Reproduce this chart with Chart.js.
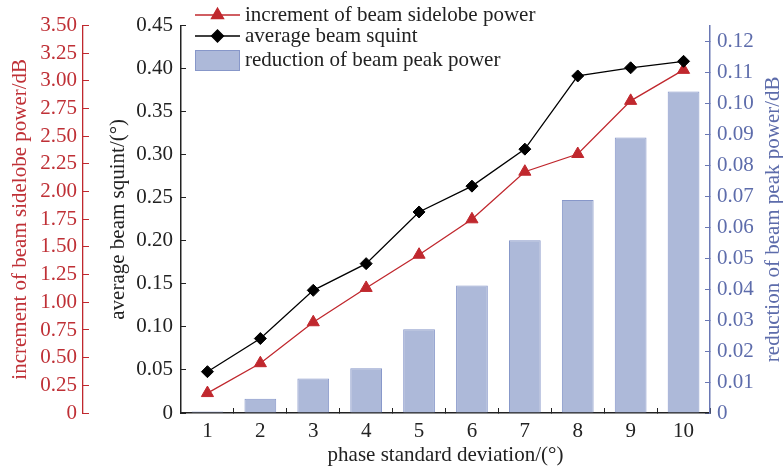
<!DOCTYPE html>
<html><head><meta charset="utf-8">
<script src="https://cdn.jsdelivr.net/npm/chart.js@4"></script>
<style>html,body{margin:0;padding:0;background:#fff}</style>
</head><body>
<canvas id="c" width="783" height="468"></canvas>
<script>
// ---- data ----
const categories = ['1','2','3','4','5','6','7','8','9','10'];
const sidelobeIncrease = [0.18, 0.45, 0.82, 1.13, 1.43, 1.75, 2.18, 2.34, 2.82, 3.10];
const beamSquint = [0.048, 0.0865, 0.1425, 0.1735, 0.2335, 0.2635, 0.3065, 0.3915, 0.401, 0.4085];
const peakReduction = [0.0005, 0.0046, 0.0111, 0.0144, 0.027, 0.0411, 0.0557, 0.0687, 0.0889, 0.1037];
const sidelobeTickLabels = ['0','0.25','0.50','0.75','1.00','1.25','1.50','1.75','2.00','2.25','2.50','2.75','3.00','3.25','3.50'];
const squintTickLabels = ['0','0.05','0.10','0.15','0.20','0.25','0.30','0.35','0.40','0.45'];
const peakTickLabels = ['0','0.01','0.02','0.03','0.04','0.05','0.06','0.07','0.08','0.09','0.10','0.11','0.12'];
const seriesNames = ['increment of beam sidelobe power','average beam squint','reduction of beam peak power'];

// ---- styles ----
const RED = '#c0282e', RED_TXT = '#bf3036';
const BLACK = '#000', TXT = '#222';
const BLUE_AX = '#6a78b4', BLUE_TXT = '#5d6cab';
const BAR_FILL = '#adb9d9', BAR_EDGE = '#8797c9';
const FONT = "'Liberation Serif', 'Times New Roman', serif";
const FS = 21;
const f = (s) => ({family: FONT, size: s, lineHeight: 1.2});

function fixTicks(labels){
  return (scale) => { scale.ticks = labels.map(l => ({value: parseFloat(l)})); };
}

const legendPlugin = {
  id: 'innerLegend',
  afterDatasetsDraw(chart){
    const ctx = chart.ctx;
    const ds = chart.data.datasets;
    const x0 = 195, x1 = 240, tx = 245;
    const rows = [15, 36, 60.5];
    ctx.save();
    ctx.font = FS + "px " + FONT;
    ctx.textBaseline = 'middle';
    ctx.textAlign = 'left';
    ds.forEach((d, i) => {
      const y = rows[i];
      if (d.type === 'bar') {
        ctx.fillStyle = d.backgroundColor;
        ctx.fillRect(x0, y - 10.5, x1 - x0, 21);
        ctx.strokeStyle = d.borderColor; ctx.lineWidth = 1;
        ctx.strokeRect(x0 + 0.5, y - 10, x1 - x0 - 1, 20);
      } else {
        ctx.strokeStyle = d.borderColor; ctx.lineWidth = d.borderWidth;
        ctx.beginPath(); ctx.moveTo(x0, y); ctx.lineTo(x1, y); ctx.stroke();
        ctx.fillStyle = d.pointBackgroundColor; ctx.strokeStyle = d.pointBorderColor;
        Chart.helpers.drawPoint(ctx, {pointStyle: d.pointStyle, radius: d.pointRadius, rotation: 0, borderWidth: 1}, (x0 + x1) / 2, y);
      }
      ctx.fillStyle = TXT;
      ctx.fillText(d.label, tx, y);
    });
    ctx.restore();
  }
};

const rightTitlePlugin = {
  id: 'rightTitle',
  afterDraw(chart){
    const s = chart.scales.yPeak;
    const ctx = chart.ctx;
    ctx.save();
    ctx.translate(s.right - 10, (s.top + s.bottom) / 2);
    ctx.rotate(-Math.PI / 2);
    ctx.font = FS + "px " + FONT;
    ctx.fillStyle = BLUE_TXT;
    ctx.textAlign = 'center';
    ctx.textBaseline = 'middle';
    ctx.fillText('reduction of beam peak power/dB', 0, 0);
    ctx.restore();
  }
};

new Chart(document.getElementById('c'), {
  data: {
    labels: categories,
    datasets: [
      {type: 'line', label: seriesNames[0], data: sidelobeIncrease, yAxisID: 'ySide', order: 2,
       borderColor: RED, borderWidth: 1.3, pointStyle: 'triangle', pointRadius: 7,
       pointBackgroundColor: RED, pointBorderColor: RED, pointBorderWidth: 1, tension: 0},
      {type: 'line', label: seriesNames[1], data: beamSquint, yAxisID: 'ySquint', order: 1,
       borderColor: BLACK, borderWidth: 1.3, pointStyle: 'rectRot', pointRadius: 6,
       pointBackgroundColor: BLACK, pointBorderColor: BLACK, pointBorderWidth: 1, tension: 0},
      {type: 'bar', label: seriesNames[2], data: peakReduction, yAxisID: 'yPeak', order: 3,
       backgroundColor: BAR_FILL, borderColor: BAR_EDGE, borderWidth: {top: 1, left: 1, right: 1, bottom: 0},
       barPercentage: 0.6, categoryPercentage: 1.0}
    ]
  },
  options: {
    responsive: false,
    animation: false,
    devicePixelRatio: 1,
    layout: {padding: {top: 16, left: 0, right: 0, bottom: 0}},
    plugins: {legend: {display: false}, tooltip: {enabled: false}},
    scales: {
      x: {
        type: 'category', position: 'bottom', offset: true,
        grid: {offset: true, drawOnChartArea: false, tickLength: -5, color: TXT, lineWidth: 1},
        border: {color: TXT, width: 1.5},
        ticks: {font: f(FS), color: TXT, padding: 11, maxRotation: 0, autoSkip: false},
        title: {display: true, text: 'phase standard deviation/(°)', font: f(FS), color: TXT, padding: {top: 0, bottom: 0}},
        afterFit: (s) => { s.height = 55; }
      },
      ySide: {
        type: 'linear', position: 'left', weight: 1, min: 0, max: 3.5,
        afterBuildTicks: fixTicks(sidelobeTickLabels),
        grid: {drawOnChartArea: false, tickLength: -6, color: RED, lineWidth: 1},
        border: {color: RED, width: 1.3},
        ticks: {font: f(FS), color: RED_TXT, padding: 12, autoSkip: false, callback: (v, i) => sidelobeTickLabels[i]},
        title: {display: true, text: 'increment of beam sidelobe power/dB', font: f(FS), color: RED_TXT, padding: {top: 8, bottom: 0}},
        afterFit: (s) => { s.width = 83; }
      },
      ySquint: {
        type: 'linear', position: 'left', weight: 0, min: 0, max: 0.45,
        afterBuildTicks: fixTicks(squintTickLabels),
        grid: {drawOnChartArea: false, tickLength: -5, color: TXT, lineWidth: 1},
        border: {color: TXT, width: 1.5},
        ticks: {font: f(FS), color: TXT, padding: 13, autoSkip: false, callback: (v, i) => squintTickLabels[i]},
        title: {display: true, text: 'average beam squint/(°)', font: f(FS), color: TXT, padding: {top: 23, bottom: 0}},
        afterFit: (s) => { s.width = 98; }
      },
      yPeak: {
        type: 'linear', position: 'right', min: 0, max: 0.125,
        afterBuildTicks: fixTicks(peakTickLabels),
        grid: {drawOnChartArea: false, tickLength: -5, color: BLUE_AX, lineWidth: 1},
        border: {color: BLUE_AX, width: 1.5},
        ticks: {font: f(FS), color: BLUE_TXT, padding: 12, autoSkip: false, callback: (v, i) => peakTickLabels[i]},
        title: {display: false},
        afterFit: (s) => { s.width = 73; }
      }
    }
  },
  plugins: [legendPlugin, rightTitlePlugin]
});
</script>
</body></html>
